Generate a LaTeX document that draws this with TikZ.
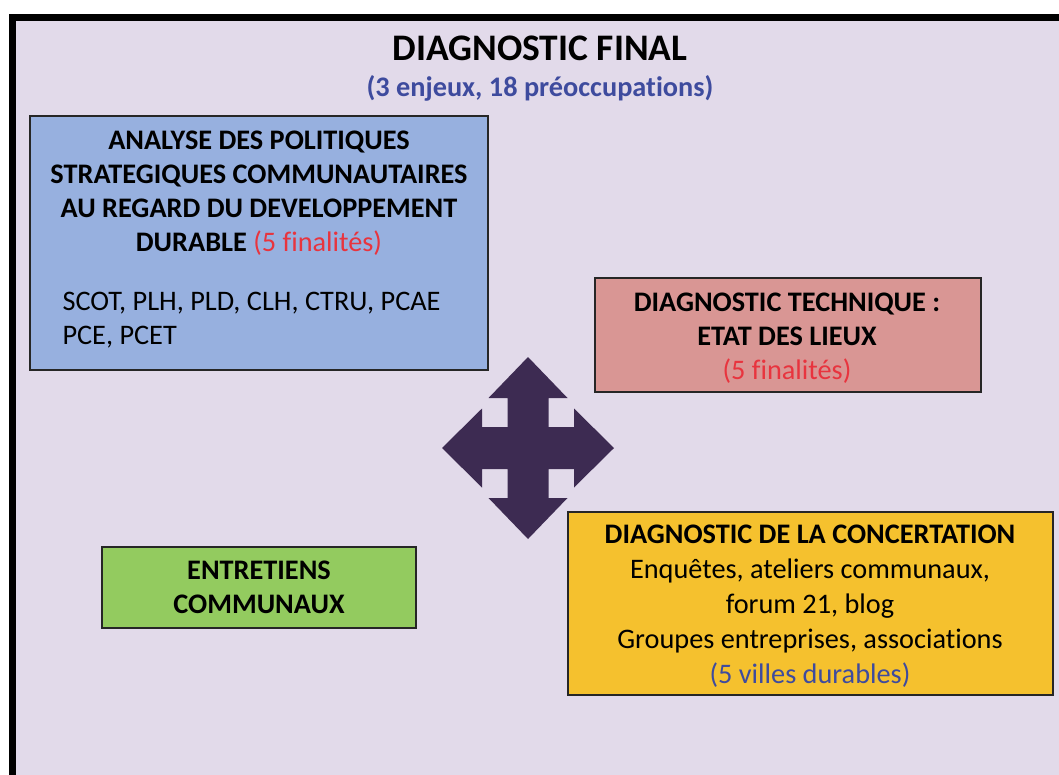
\documentclass[tikz,border=0pt]{standalone}
\usepackage{fontspec}
\setmainfont{Carlito}[Ligatures=NoCommon]
\usepackage{xcolor}
\usepackage{tikz}
\usetikzlibrary{positioning}

\definecolor{fond}{HTML}{E2DAEA}
\definecolor{bleucadre}{HTML}{97B0DF}
\definecolor{rosecadre}{HTML}{D99694}
\definecolor{vertcadre}{HTML}{93CB5F}
\definecolor{orcadre}{HTML}{F5C12E}
\definecolor{bleutexte}{HTML}{3E4B9E}
\definecolor{rouge}{HTML}{E8343E}
\definecolor{fleche}{HTML}{3D2B52}

\begin{document}
\begin{tikzpicture}[x=1pt, y=-1pt]
    \tikzset{
        panel/.style={
                draw=black!85, line width=1.3pt, inner sep=0pt
            },
        panel title/.style={
                font=\fontsize{28.3}{34}\selectfont\bfseries, text=black, align=center
            },
        panel text/.style={
                font=\fontsize{28.3}{35}\selectfont, text=black, align=center
            }
    }

    \clip (0,0) rectangle (1059,774);

    % --- cadre general ---
    \draw[line width=7pt, fill=fond] (12,17) rectangle (1090,800);
    \node[font=\fontsize{37.5}{44}\selectfont\bfseries] (titre) at (540,48) {DIAGNOSTIC FINAL};
    \node[font=\fontsize{28.3}{34}\selectfont\bfseries, text=bleutexte] (sous titre) at (540,88) {(3 enjeux, 18 préoccupations)};

    % --- les quatre cadres ---
    \node[panel, fill=bleucadre, minimum width=458pt, minimum height=254pt] (politiques) at (259,243) {};
    \node[panel title] (politiques titre) at (259,193) {ANALYSE DES POLITIQUES\\STRATEGIQUES COMMUNAUTAIRES\\AU REGARD DU DEVELOPPEMENT\\DURABLE {\mdseries\color{rouge}(5 finalités)}};
    \node[panel text, align=left, anchor=west, font=\fontsize{28.3}{34}\selectfont] (sigles) at (59,320) {SCOT, PLH, PLD, CLH, CTRU, PCAE\\PCE, PCET};

    \node[panel, fill=rosecadre, minimum width=386pt, minimum height=114pt] (technique) at (788,335) {};
    \node[panel title] (technique titre) at (787,338) {DIAGNOSTIC TECHNIQUE :\\ETAT DES LIEUX\\{\mdseries\color{rouge}(5 finalités)}};

    \node[panel, fill=vertcadre, minimum width=314pt, minimum height=81pt] (entretiens) at (259,587.5) {};
    \node[panel title] (entretiens titre) at (259,587) {ENTRETIENS\\COMMUNAUX};

    \node[panel, fill=orcadre, minimum width=485pt, minimum height=183pt] (concertation) at (810.5,603.5) {};
    \node[panel text] (concertation titre) at (810,606) {\textbf{DIAGNOSTIC DE LA CONCERTATION}\\Enquêtes, ateliers communaux,\\forum 21, blog\\Groupes entreprises, associations\\{\color{bleutexte}(5 villes durables)}};

    % --- fleche a quatre branches ---
    \fill[fleche, shift={(528,448)}]
        (0,-91) -- (39.5,-50) -- (20.5,-50) -- (20.5,-21) -- (46,-21) -- (46,-39.5) -- (86,0)
        -- (46,39.5) -- (46,21) -- (20.5,21) -- (20.5,50) -- (39.5,50) -- (0,91)
        -- (-39.5,50) -- (-20.5,50) -- (-20.5,21) -- (-46,21) -- (-46,39.5) -- (-86,0)
        -- (-46,-39.5) -- (-46,-21) -- (-20.5,-21) -- (-20.5,-50) -- (-39.5,-50) -- cycle;
\end{tikzpicture}
\end{document}
